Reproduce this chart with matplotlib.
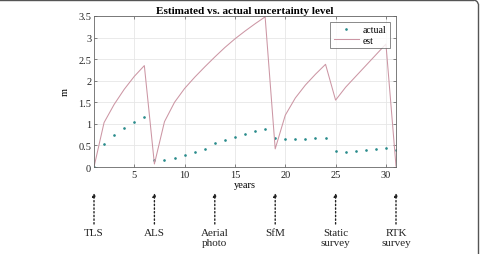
import matplotlib
matplotlib.use("Agg")
import matplotlib.pyplot as plt
import matplotlib.transforms as mtransforms
from matplotlib.lines import Line2D
from matplotlib.patches import Arc

plt.rcParams['font.family'] = ['Liberation Serif', 'DejaVu Serif']

years = list(range(1, 32))
est = [0.0, 1.03, 1.45, 1.8, 2.1, 2.35, 0.07, 1.05, 1.5, 1.82, 2.08, 2.32, 2.55, 2.77, 2.97,
       3.15, 3.32, 3.48, 0.42, 1.2, 1.6, 1.9, 2.15, 2.38, 1.55, 1.85, 2.1, 2.35, 2.6, 2.85, 0.02]
actual = [0.0, 0.53, 0.74, 0.91, 1.05, 1.17, 0.16, 0.16, 0.21, 0.28, 0.35, 0.42, 0.56, 0.63, 0.70,
          0.77, 0.83, 0.89, 0.67, 0.66, 0.65, 0.66, 0.67, 0.68, 0.36, 0.35, 0.37, 0.39, 0.41, 0.43, 0.40]
events_x = [1, 7, 13, 19, 25, 31]
events_lbl = ["TLS", "ALS", "Aerial\nphoto", "SfM", "Static\nsurvey", "RTK\nsurvey"]
xticks = [5, 10, 15, 20, 25, 30]
yticks = [0, 0.5, 1, 1.5, 2, 2.5, 3, 3.5]
ytick_labels = ["0", "0.5", "1", "1.5", "2", "2.5", "3", "3.5"]

fig = plt.figure(figsize=(4.8, 2.55), dpi=100)
ax = fig.add_axes([94/480, 1-168/255, 302/480, 151/255])

ax.plot(years, actual, linestyle='none', marker='.', markersize=1.8, color='#2a8c8c', label='actual')
ax.plot(years, est, color='#cc96a4', linewidth=0.75, label='est')

ax.set_xlim(1, 31)
ax.set_ylim(0, 3.5)
ax.set_xticks(xticks)
ax.set_yticks(yticks)
ax.set_yticklabels(ytick_labels)
ax.grid(True, color='#e6e6e6', linewidth=0.6)
ax.set_axisbelow(True)
ax.tick_params(direction='in', length=2.5, width=0.5, labelsize=7.5, colors='#555555',
               labelcolor='#222222', top=True, right=True, pad=2)
for s in ax.spines.values():
    s.set_color('#666666')
    s.set_linewidth(0.6)
ax.set_title("Estimated vs. actual uncertainty level", fontsize=8, fontweight='bold', pad=2)
ax.set_xlabel("years", fontsize=7.5, labelpad=1)
ax.set_ylabel("m", fontsize=7.5, labelpad=6)

leg = ax.legend(loc='upper right', fontsize=7, frameon=True, fancybox=False,
                edgecolor='#555555', borderpad=0.35, handlelength=2.6, labelspacing=0.15,
                borderaxespad=0.6, handletextpad=0.4)
leg.get_frame().set_linewidth(0.6)

trans = mtransforms.blended_transform_factory(ax.transData, fig.transFigure)
for x, lbl in zip(events_x, events_lbl):
    ax.annotate("", xy=(x, 1-194/255), xytext=(x, 1-225/255), xycoords=trans, textcoords=trans,
                arrowprops=dict(arrowstyle='-|>', linestyle=':', color='#222222', lw=1.0,
                                mutation_scale=5, shrinkA=0, shrinkB=0),
                annotation_clip=False)
    ax.text(x, 1-229/255, lbl, transform=trans, ha='center', va='top', fontsize=8,
            linespacing=1.2, color='#222222', clip_on=False)

# frame around figure (top and right edges)
fig.add_artist(Line2D([0, 0.985], [0.996, 0.996], transform=fig.transFigure, color='#555555', lw=1.0))
fig.add_artist(Line2D([0.996, 0.996], [0, 0.98], transform=fig.transFigure, color='#555555', lw=1.0))
fig.add_artist(Arc((0.985*480, 0.98*255), 2*0.011*480, 2*0.016*255, theta1=0, theta2=90,
                   transform=None, color='#555555', lw=1.0))

fig.savefig("out.png", dpi=100)
